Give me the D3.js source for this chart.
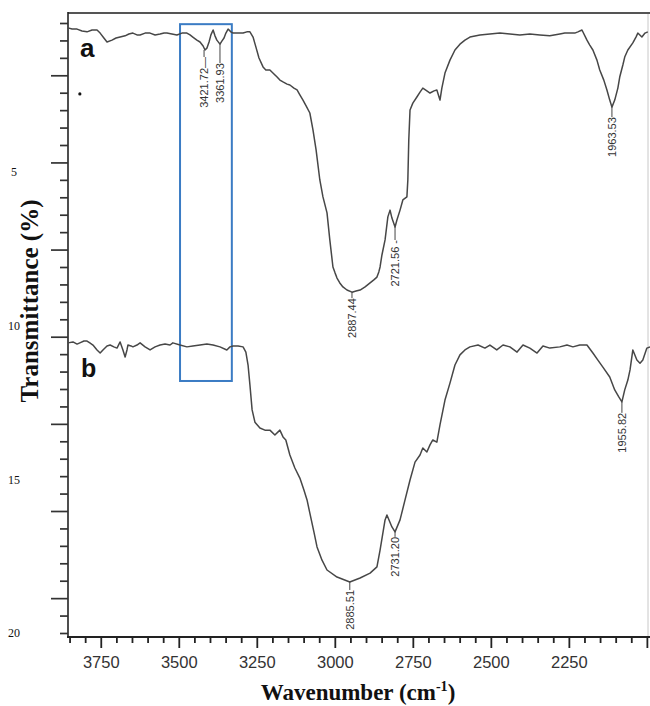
<!DOCTYPE html>
<html>
<head>
<meta charset="utf-8">
<script src="https://cdn.jsdelivr.net/npm/d3@7/dist/d3.min.js"></script>
<style>
  body { margin: 0; background: #fff; }
  svg { display: block; }
</style>
</head>
<body>
<svg id="chart" width="650" height="706"></svg>
<script>
// [wavenumber (cm-1), transmittance units]
const spectrum_a = [
  [3855, 0.31], [3842, 0.35], [3826, 0.35], [3810, 0.41], [3794, 0.44], [3778, 0.38],
  [3762, 0.38], [3752, 0.48], [3740, 0.64], [3730, 0.77], [3714, 0.71], [3701, 0.64],
  [3688, 0.61], [3672, 0.57], [3660, 0.51], [3647, 0.48], [3634, 0.54], [3624, 0.54],
  [3608, 0.48], [3592, 0.48], [3576, 0.54], [3560, 0.51], [3547, 0.48], [3538, 0.48],
  [3522, 0.51], [3506, 0.54], [3490, 0.48], [3474, 0.48], [3464, 0.54], [3455, 0.61],
  [3442, 0.71], [3432, 0.77], [3422, 0.9], [3416, 1.03], [3410, 0.97], [3403, 0.77],
  [3397, 0.54], [3390, 0.38], [3384, 0.57], [3378, 0.71], [3368, 0.84], [3362, 0.74],
  [3355, 0.64], [3349, 0.48], [3342, 0.35], [3333, 0.44], [3326, 0.48], [3310, 0.48],
  [3294, 0.48], [3282, 0.44], [3272, 0.44], [3262, 0.61], [3253, 0.93], [3243, 1.29],
  [3230, 1.58], [3221, 1.68], [3208, 1.68], [3195, 1.81], [3185, 1.91], [3176, 2.01],
  [3166, 2.07], [3153, 2.14], [3144, 2.17], [3131, 2.27], [3121, 2.33], [3112, 2.49],
  [3102, 2.66], [3092, 2.85], [3080, 3.08], [3070, 3.63], [3060, 4.28], [3048, 5.26],
  [3038, 5.81], [3025, 6.33], [3016, 7.21], [3006, 8.09], [2999, 8.29], [2993, 8.45],
  [2984, 8.61], [2974, 8.74], [2961, 8.84], [2945, 8.91], [2932, 8.87], [2919, 8.84],
  [2903, 8.74], [2887, 8.61], [2875, 8.51], [2865, 8.42], [2859, 8.25], [2855, 8.09],
  [2849, 7.7], [2839, 7.21], [2830, 6.46], [2823, 6.24], [2817, 6.5], [2807, 6.79],
  [2801, 6.56], [2791, 6.24], [2782, 5.91], [2769, 5.81], [2766, 5.26], [2763, 3.96],
  [2759, 2.98], [2750, 2.76], [2737, 2.56], [2727, 2.4], [2718, 2.27], [2705, 2.36],
  [2695, 2.43], [2682, 2.36], [2673, 2.33], [2663, 2.66], [2657, 2.27], [2647, 1.78],
  [2631, 1.36], [2615, 1.03], [2599, 0.84], [2583, 0.71], [2567, 0.61], [2535, 0.54],
  [2503, 0.51], [2471, 0.48], [2439, 0.51], [2407, 0.54], [2375, 0.51], [2343, 0.54],
  [2311, 0.57], [2279, 0.51], [2263, 0.48], [2247, 0.48], [2231, 0.48], [2221, 0.44],
  [2208, 0.38], [2192, 0.71], [2183, 0.87], [2173, 1.03], [2160, 1.36], [2151, 1.68],
  [2138, 2.01], [2128, 2.33], [2119, 2.66], [2112, 2.89], [2103, 2.66], [2093, 2.27],
  [2087, 1.91], [2077, 1.52], [2071, 1.26], [2061, 1.03], [2045, 0.8], [2035, 0.61],
  [2029, 0.48], [2016, 0.61], [2006, 0.48], [1997, 0.44],
];

const spectrum_b = [
  [3855, 10.56], [3839, 10.53], [3826, 10.6], [3817, 10.56], [3804, 10.5], [3794, 10.5],
  [3785, 10.56], [3775, 10.63], [3762, 10.79], [3752, 10.89], [3743, 10.79], [3730, 10.66],
  [3720, 10.63], [3708, 10.69], [3698, 10.73], [3688, 10.53], [3679, 10.79], [3672, 11.02],
  [3666, 10.79], [3663, 10.63], [3653, 10.66], [3647, 10.69], [3634, 10.63], [3624, 10.56],
  [3608, 10.69], [3592, 10.79], [3576, 10.69], [3560, 10.63], [3544, 10.6], [3528, 10.63],
  [3519, 10.56], [3496, 10.63], [3474, 10.69], [3455, 10.66], [3432, 10.63], [3410, 10.6],
  [3390, 10.63], [3368, 10.69], [3346, 10.79], [3336, 10.69], [3326, 10.66], [3310, 10.66],
  [3294, 10.69], [3285, 10.86], [3278, 11.28], [3272, 11.93], [3265, 12.74], [3256, 13.14],
  [3240, 13.33], [3224, 13.4], [3208, 13.4], [3192, 13.56], [3176, 13.4], [3166, 13.62],
  [3157, 13.72], [3144, 14.21], [3128, 14.63], [3112, 14.96], [3099, 15.35], [3089, 15.67],
  [3080, 16.1], [3067, 16.71], [3057, 17.2], [3041, 17.63], [3025, 17.95], [2993, 18.18],
  [2952, 18.34], [2919, 18.21], [2887, 18.05], [2865, 17.85], [2855, 17.3], [2839, 16.32],
  [2833, 16.16], [2817, 16.55], [2807, 16.71], [2791, 16.32], [2775, 15.67], [2759, 15.02],
  [2743, 14.44], [2727, 14.21], [2718, 13.98], [2705, 14.11], [2695, 13.88], [2686, 13.72],
  [2673, 13.79], [2663, 13.23], [2647, 12.42], [2631, 11.87], [2615, 11.28], [2599, 10.95],
  [2583, 10.79], [2567, 10.69], [2541, 10.63], [2519, 10.73], [2503, 10.63], [2481, 10.79],
  [2461, 10.63], [2439, 10.69], [2416, 10.86], [2397, 10.63], [2375, 10.73], [2352, 10.89],
  [2333, 10.66], [2311, 10.73], [2279, 10.69], [2256, 10.63], [2237, 10.69], [2215, 10.63],
  [2192, 10.63], [2173, 10.89], [2157, 11.12], [2141, 11.35], [2119, 11.67], [2103, 12.09],
  [2090, 12.32], [2080, 12.48], [2071, 12.09], [2061, 11.77], [2054, 11.44], [2045, 10.79],
  [2032, 11.12], [2022, 11.22], [2013, 11.12], [2000, 10.73], [1990, 10.69],
];

const peak_labels = ["3421.72\u2014", "3361.93", "2887.44", "2721.56 -", "1963.53", "1955.82", "2885.51", "2731.20"];
const peak_waves = [3419, 3368, 2945, 2807, 2112, 2080, 2952, 2807];
const peak_values = [1.03, 0.84, 8.91, 6.79, 2.89, 12.48, 18.34, 16.71];

const y_label_values = [5, 10, 15, 20];
const x_label_values = [3750, 3500, 3250, 3000, 2750, 2500, 2250];
const x_tick_values = d3.range(2000, 3851, 50);

const box_waves = [3496, 3330];
const box_values = [0.19, 11.8];

const stray_dot = [[3817, 2.46]];

// layout
const width = 650;
const left = 68;
const top_line = 13;
const bottom_line = 637;
const peak_gaps = [7, 19, 6, 13, 10, 11, 8, 5];
const curve_color = "#474747";

const svg = d3.select("#chart");

const x = d3.scaleLinear().domain([3855, 1990]).range([left, width]);
const y = d3.scaleLinear().domain([0, 20]).range([18.33, 633]);
const tick_scale = d3.scaleLinear().domain([0, 35]).range([23, 633]);

// frame
svg.append("line")
  .attr("x1", width - 2).attr("x2", width - 2)
  .attr("y1", top_line).attr("y2", bottom_line)
  .attr("stroke", "#c8c8c8").attr("stroke-width", 1);
svg.append("line")
  .attr("x1", left).attr("x2", width)
  .attr("y1", top_line).attr("y2", top_line)
  .attr("stroke", "#555").attr("stroke-width", 2);
svg.append("line")
  .attr("x1", left).attr("x2", left)
  .attr("y1", top_line - 1).attr("y2", bottom_line)
  .attr("stroke", "#222").attr("stroke-width", 1.6);
svg.append("line")
  .attr("x1", left - 1).attr("x2", width)
  .attr("y1", bottom_line).attr("y2", bottom_line)
  .attr("stroke", "#222").attr("stroke-width", 2);

// left ticks
svg.append("g")
  .attr("transform", `translate(${left},0)`)
  .call(d3.axisLeft(tick_scale).tickValues(d3.range(0, 36)).tickSize(8).tickFormat(""))
  .call((g) => g.select(".domain").remove())
  .call((g) =>
    g.selectAll(".tick line")
      .attr("x2", (d) => (d % 5 === 3 ? -17 : -8))
      .attr("stroke", "#333")
      .attr("stroke-width", 1.7)
  );

// y numbers
svg.append("g")
  .attr("transform", "translate(14,0)")
  .call(d3.axisLeft(y).tickValues(y_label_values).tickSize(0).tickPadding(0))
  .call((g) => g.select(".domain").remove())
  .call((g) =>
    g.selectAll("text")
      .attr("x", 0)
      .attr("text-anchor", "middle")
      .attr("font-family", "'Liberation Serif', 'Times New Roman', serif")
      .attr("font-size", 12)
      .attr("fill", "#111")
  );

// bottom axis
svg.append("g")
  .attr("transform", `translate(0,${bottom_line})`)
  .call(
    d3.axisBottom(x)
      .tickValues(x_tick_values)
      .tickSize(6)
      .tickFormat((d) => (x_label_values.includes(d) ? d : ""))
  )
  .call((g) => g.select(".domain").remove())
  .call((g) =>
    g.selectAll(".tick line")
      .attr("y2", (d) => (d % 250 === 0 ? 11 : 6))
      .attr("stroke", "#222")
      .attr("stroke-width", 1.8)
  )
  .call((g) =>
    g.selectAll("text")
      .attr("y", 19)
      .attr("font-family", "'Liberation Sans', Arial, sans-serif")
      .attr("font-size", 16.5)
      .attr("fill", "#333")
  );

// highlight box
svg.append("rect")
  .attr("x", x(box_waves[0]))
  .attr("y", y(box_values[0]))
  .attr("width", x(box_waves[1]) - x(box_waves[0]))
  .attr("height", y(box_values[1]) - y(box_values[0]))
  .attr("fill", "none")
  .attr("stroke", "#3b7cc4")
  .attr("stroke-width", 2);

// spectra
const line = d3.line().x((d) => x(d[0])).y((d) => y(d[1]));

svg.append("g")
  .selectAll("path")
  .data([spectrum_a, spectrum_b])
  .join("path")
  .attr("d", line)
  .attr("fill", "none")
  .attr("stroke", curve_color)
  .attr("stroke-width", 1.5)
  .attr("stroke-linejoin", "round");

svg.append("g")
  .selectAll("circle")
  .data(stray_dot)
  .join("circle")
  .attr("cx", (d) => x(d[0]))
  .attr("cy", (d) => y(d[1]))
  .attr("r", 1.6)
  .attr("fill", "#111");

// peak annotations
const peaks = peak_labels.map((label, i) => ({
  label,
  px: x(peak_waves[i]),
  py: y(peak_values[i]),
  gap: peak_gaps[i],
}));

const peak_group = svg.append("g").selectAll("g").data(peaks).join("g");

peak_group
  .append("line")
  .attr("x1", (d) => d.px)
  .attr("x2", (d) => d.px)
  .attr("y1", (d) => d.py)
  .attr("y2", (d) => d.py + d.gap)
  .attr("stroke", "#444")
  .attr("stroke-width", 1);

peak_group
  .append("text")
  .attr("transform", (d) => `translate(${d.px},${d.py + d.gap}) rotate(-90)`)
  .attr("text-anchor", "end")
  .attr("dominant-baseline", "central")
  .attr("font-family", "'Liberation Sans', Arial, sans-serif")
  .attr("font-size", 11)
  .attr("fill", "#333")
  .text((d) => d.label);

// curve letters
svg.append("text")
  .attr("x", 80).attr("y", 57)
  .attr("font-family", "'Liberation Sans', Arial, sans-serif")
  .attr("font-weight", "bold")
  .attr("font-size", 26)
  .attr("fill", "#111")
  .text("a");
svg.append("text")
  .attr("x", 81).attr("y", 377)
  .attr("font-family", "'Liberation Sans', Arial, sans-serif")
  .attr("font-weight", "bold")
  .attr("font-size", 25)
  .attr("fill", "#111")
  .text("b");

// axis titles
const x_title = svg.append("text")
  .attr("x", 358).attr("y", 700)
  .attr("text-anchor", "middle")
  .attr("font-family", "'Liberation Serif', 'Times New Roman', serif")
  .attr("font-weight", "bold")
  .attr("font-size", 23)
  .attr("fill", "#111");
x_title.append("tspan").text("Wavenumber (cm");
x_title.append("tspan").attr("font-size", 14).attr("dy", -9).text("-1");
x_title.append("tspan").attr("dy", 9).text(")");

svg.append("text")
  .attr("transform", "translate(38,301) rotate(-90)")
  .attr("text-anchor", "middle")
  .attr("font-family", "'Liberation Serif', 'Times New Roman', serif")
  .attr("font-weight", "bold")
  .attr("font-size", 25)
  .attr("fill", "#111")
  .text("Transmittance (%)");
</script>
</body>
</html>
